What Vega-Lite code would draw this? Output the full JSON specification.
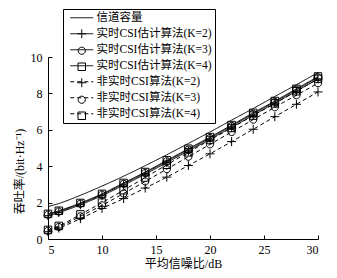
{
  "$schema": "https://vega.github.io/schema/vega-lite/v6.json",
  "width": 270,
  "height": 182,
  "autosize": "none",
  "padding": {"left": 48, "top": 57, "right": 19, "bottom": 39},
  "background": "white",
  "config": {
    "view": {"stroke": null},
    "font": "Liberation Serif, Noto Sans CJK SC",
    "axis": {
      "domainColor": "black", "tickColor": "black", "labelColor": "black", "titleColor": "black",
      "labelFont": "Liberation Serif", "labelFontSize": 12, "titleFont": "Liberation Serif, Noto Sans CJK SC",
      "titleFontSize": 12, "titleFontWeight": "normal", "grid": false, "tickSize": -4, "domainWidth": 1, "tickWidth": 1
    },
    "legend": {"labelFont": "Liberation Serif, Noto Sans CJK SC", "labelFontSize": 11.5, "labelColor": "black"}
  },
  "data": {"values": [
    {"snr": 5, "v": 1.78, "s": "信道容量", "m": "m0"},
    {"snr": 6, "v": 1.95, "s": "信道容量", "m": "m0"},
    {"snr": 8, "v": 2.40, "s": "信道容量", "m": "m0"},
    {"snr": 10, "v": 2.91, "s": "信道容量", "m": "m0"},
    {"snr": 12, "v": 3.45, "s": "信道容量", "m": "m0"},
    {"snr": 14, "v": 4.03, "s": "信道容量", "m": "m0"},
    {"snr": 16, "v": 4.63, "s": "信道容量", "m": "m0"},
    {"snr": 18, "v": 5.25, "s": "信道容量", "m": "m0"},
    {"snr": 20, "v": 5.88, "s": "信道容量", "m": "m0"},
    {"snr": 22, "v": 6.53, "s": "信道容量", "m": "m0"},
    {"snr": 24, "v": 7.17, "s": "信道容量", "m": "m0"},
    {"snr": 26, "v": 7.83, "s": "信道容量", "m": "m0"},
    {"snr": 28, "v": 8.48, "s": "信道容量", "m": "m0"},
    {"snr": 30, "v": 9.14, "s": "信道容量", "m": "m0"},

    {"snr": 5, "v": 1.28, "s": "实时CSI估计算法(K=2)", "m": "m1"},
    {"snr": 6, "v": 1.45, "s": "实时CSI估计算法(K=2)", "m": "m1"},
    {"snr": 8, "v": 1.88, "s": "实时CSI估计算法(K=2)", "m": "m1"},
    {"snr": 10, "v": 2.38, "s": "实时CSI估计算法(K=2)", "m": "m1"},
    {"snr": 12, "v": 2.96, "s": "实时CSI估计算法(K=2)", "m": "m1"},
    {"snr": 14, "v": 3.56, "s": "实时CSI估计算法(K=2)", "m": "m1"},
    {"snr": 16, "v": 4.20, "s": "实时CSI估计算法(K=2)", "m": "m1"},
    {"snr": 18, "v": 4.84, "s": "实时CSI估计算法(K=2)", "m": "m1"},
    {"snr": 20, "v": 5.48, "s": "实时CSI估计算法(K=2)", "m": "m1"},
    {"snr": 22, "v": 6.14, "s": "实时CSI估计算法(K=2)", "m": "m1"},
    {"snr": 24, "v": 6.80, "s": "实时CSI估计算法(K=2)", "m": "m1"},
    {"snr": 26, "v": 7.46, "s": "实时CSI估计算法(K=2)", "m": "m1"},
    {"snr": 28, "v": 8.12, "s": "实时CSI估计算法(K=2)", "m": "m1"},
    {"snr": 30, "v": 8.80, "s": "实时CSI估计算法(K=2)", "m": "m1"},

    {"snr": 5, "v": 1.34, "s": "实时CSI估计算法(K=3)", "m": "m2"},
    {"snr": 6, "v": 1.51, "s": "实时CSI估计算法(K=3)", "m": "m2"},
    {"snr": 8, "v": 1.94, "s": "实时CSI估计算法(K=3)", "m": "m2"},
    {"snr": 10, "v": 2.44, "s": "实时CSI估计算法(K=3)", "m": "m2"},
    {"snr": 12, "v": 3.03, "s": "实时CSI估计算法(K=3)", "m": "m2"},
    {"snr": 14, "v": 3.63, "s": "实时CSI估计算法(K=3)", "m": "m2"},
    {"snr": 16, "v": 4.27, "s": "实时CSI估计算法(K=3)", "m": "m2"},
    {"snr": 18, "v": 4.91, "s": "实时CSI估计算法(K=3)", "m": "m2"},
    {"snr": 20, "v": 5.55, "s": "实时CSI估计算法(K=3)", "m": "m2"},
    {"snr": 22, "v": 6.21, "s": "实时CSI估计算法(K=3)", "m": "m2"},
    {"snr": 24, "v": 6.88, "s": "实时CSI估计算法(K=3)", "m": "m2"},
    {"snr": 26, "v": 7.53, "s": "实时CSI估计算法(K=3)", "m": "m2"},
    {"snr": 28, "v": 8.20, "s": "实时CSI估计算法(K=3)", "m": "m2"},
    {"snr": 30, "v": 8.88, "s": "实时CSI估计算法(K=3)", "m": "m2"},

    {"snr": 5, "v": 1.38, "s": "实时CSI估计算法(K=4)", "m": "m3"},
    {"snr": 6, "v": 1.55, "s": "实时CSI估计算法(K=4)", "m": "m3"},
    {"snr": 8, "v": 1.98, "s": "实时CSI估计算法(K=4)", "m": "m3"},
    {"snr": 10, "v": 2.48, "s": "实时CSI估计算法(K=4)", "m": "m3"},
    {"snr": 12, "v": 3.08, "s": "实时CSI估计算法(K=4)", "m": "m3"},
    {"snr": 14, "v": 3.68, "s": "实时CSI估计算法(K=4)", "m": "m3"},
    {"snr": 16, "v": 4.32, "s": "实时CSI估计算法(K=4)", "m": "m3"},
    {"snr": 18, "v": 4.96, "s": "实时CSI估计算法(K=4)", "m": "m3"},
    {"snr": 20, "v": 5.60, "s": "实时CSI估计算法(K=4)", "m": "m3"},
    {"snr": 22, "v": 6.26, "s": "实时CSI估计算法(K=4)", "m": "m3"},
    {"snr": 24, "v": 6.93, "s": "实时CSI估计算法(K=4)", "m": "m3"},
    {"snr": 26, "v": 7.58, "s": "实时CSI估计算法(K=4)", "m": "m3"},
    {"snr": 28, "v": 8.25, "s": "实时CSI估计算法(K=4)", "m": "m3"},
    {"snr": 30, "v": 8.93, "s": "实时CSI估计算法(K=4)", "m": "m3"},

    {"snr": 5, "v": 0.40, "s": "非实时CSI算法(K=2)", "m": "m4"},
    {"snr": 6, "v": 0.60, "s": "非实时CSI算法(K=2)", "m": "m4"},
    {"snr": 8, "v": 1.12, "s": "非实时CSI算法(K=2)", "m": "m4"},
    {"snr": 10, "v": 1.68, "s": "非实时CSI算法(K=2)", "m": "m4"},
    {"snr": 12, "v": 2.22, "s": "非实时CSI算法(K=2)", "m": "m4"},
    {"snr": 14, "v": 2.80, "s": "非实时CSI算法(K=2)", "m": "m4"},
    {"snr": 16, "v": 3.40, "s": "非实时CSI算法(K=2)", "m": "m4"},
    {"snr": 18, "v": 4.04, "s": "非实时CSI算法(K=2)", "m": "m4"},
    {"snr": 20, "v": 4.68, "s": "非实时CSI算法(K=2)", "m": "m4"},
    {"snr": 22, "v": 5.35, "s": "非实时CSI算法(K=2)", "m": "m4"},
    {"snr": 24, "v": 6.03, "s": "非实时CSI算法(K=2)", "m": "m4"},
    {"snr": 26, "v": 6.72, "s": "非实时CSI算法(K=2)", "m": "m4"},
    {"snr": 28, "v": 7.40, "s": "非实时CSI算法(K=2)", "m": "m4"},
    {"snr": 30, "v": 8.08, "s": "非实时CSI算法(K=2)", "m": "m4"},

    {"snr": 5, "v": 0.45, "s": "非实时CSI算法(K=3)", "m": "m5"},
    {"snr": 6, "v": 0.66, "s": "非实时CSI算法(K=3)", "m": "m5"},
    {"snr": 8, "v": 1.25, "s": "非实时CSI算法(K=3)", "m": "m5"},
    {"snr": 10, "v": 1.85, "s": "非实时CSI算法(K=3)", "m": "m5"},
    {"snr": 12, "v": 2.50, "s": "非实时CSI算法(K=3)", "m": "m5"},
    {"snr": 14, "v": 3.16, "s": "非实时CSI算法(K=3)", "m": "m5"},
    {"snr": 16, "v": 3.84, "s": "非实时CSI算法(K=3)", "m": "m5"},
    {"snr": 18, "v": 4.52, "s": "非实时CSI算法(K=3)", "m": "m5"},
    {"snr": 20, "v": 5.20, "s": "非实时CSI算法(K=3)", "m": "m5"},
    {"snr": 22, "v": 5.88, "s": "非实时CSI算法(K=3)", "m": "m5"},
    {"snr": 24, "v": 6.56, "s": "非实时CSI算法(K=3)", "m": "m5"},
    {"snr": 26, "v": 7.24, "s": "非实时CSI算法(K=3)", "m": "m5"},
    {"snr": 28, "v": 7.90, "s": "非实时CSI算法(K=3)", "m": "m5"},
    {"snr": 30, "v": 8.56, "s": "非实时CSI算法(K=3)", "m": "m5"},

    {"snr": 5, "v": 0.50, "s": "非实时CSI算法(K=4)", "m": "m6"},
    {"snr": 6, "v": 0.72, "s": "非实时CSI算法(K=4)", "m": "m6"},
    {"snr": 8, "v": 1.35, "s": "非实时CSI算法(K=4)", "m": "m6"},
    {"snr": 10, "v": 2.00, "s": "非实时CSI算法(K=4)", "m": "m6"},
    {"snr": 12, "v": 2.68, "s": "非实时CSI算法(K=4)", "m": "m6"},
    {"snr": 14, "v": 3.38, "s": "非实时CSI算法(K=4)", "m": "m6"},
    {"snr": 16, "v": 4.08, "s": "非实时CSI算法(K=4)", "m": "m6"},
    {"snr": 18, "v": 4.76, "s": "非实时CSI算法(K=4)", "m": "m6"},
    {"snr": 20, "v": 5.44, "s": "非实时CSI算法(K=4)", "m": "m6"},
    {"snr": 22, "v": 6.10, "s": "非实时CSI算法(K=4)", "m": "m6"},
    {"snr": 24, "v": 6.78, "s": "非实时CSI算法(K=4)", "m": "m6"},
    {"snr": 26, "v": 7.45, "s": "非实时CSI算法(K=4)", "m": "m6"},
    {"snr": 28, "v": 8.12, "s": "非实时CSI算法(K=4)", "m": "m6"},
    {"snr": 30, "v": 8.80, "s": "非实时CSI算法(K=4)", "m": "m6"}
  ]},
  "encoding": {
    "x": {"field": "snr", "type": "quantitative",
      "scale": {"domain": [5, 30], "nice": false, "zero": false},
      "axis": {"values": [5, 10, 15, 20, 25, 30], "title": "平均信噪比/dB", "labelPadding": 9, "titlePadding": 3}},
    "y": {"field": "v", "type": "quantitative",
      "scale": {"domain": [0, 10], "nice": false},
      "axis": {"values": [0, 2, 4, 6, 8, 10], "title": "吞吐率/(bit·Hz⁻¹)", "labelPadding": 10, "titlePadding": 4, "titleY": 114}}
  },
  "layer": [
    {
      "mark": {"type": "line", "color": "black", "strokeWidth": 1, "interpolate": "monotone"},
      "encoding": {
        "strokeDash": {"field": "s", "type": "nominal",
          "scale": {"domain": ["信道容量", "实时CSI估计算法(K=2)", "实时CSI估计算法(K=3)", "实时CSI估计算法(K=4)", "非实时CSI算法(K=2)", "非实时CSI算法(K=3)", "非实时CSI算法(K=4)"],
            "range": [[1, 0], [1, 0], [1, 0], [1, 0], [4, 3], [4, 3], [4, 3]]},
          "legend": {"title": null, "orient": "none", "legendX": 15, "legendY": -48,
            "symbolType": "M-2.3,0H2.3", "symbolSize": 100, "symbolStrokeColor": "black", "symbolStrokeWidth": 1,
            "symbolOffset": 10, "labelOffset": 9, "rowPadding": 3, "padding": 3,
            "strokeColor": "black", "labelLimit": 200}}
      }
    },
    {
      "transform": [{"filter": "datum.m != 'm0'"}],
      "mark": {"type": "point", "filled": false, "stroke": "black", "strokeWidth": 1, "size": 100, "opacity": 1},
      "encoding": {
        "shape": {"field": "m", "type": "nominal",
          "scale": {"domain": ["m0", "m1", "m2", "m3", "m4", "m5", "m6"],
            "range": ["M0,0", "M-0.9,0H0.9M0,-0.9V0.9", "M-0.72,0A0.72,0.72 0 1,0 0.72,0A0.72,0.72 0 1,0 -0.72,0", "M-0.75,-0.75H0.75V0.75H-0.75Z", "M-0.9,0H0.9M0,-0.9V0.9", "M-0.72,0A0.72,0.72 0 1,0 0.72,0A0.72,0.72 0 1,0 -0.72,0", "M-0.75,-0.75H0.75V0.75H-0.75Z"]},
          "legend": {"title": null, "orient": "none", "legendX": 15, "legendY": -48,
            "symbolSize": 100, "symbolStrokeColor": "black", "symbolStrokeWidth": 1, "symbolFillColor": "transparent",
            "symbolOffset": 10, "labelOffset": 9, "rowPadding": 3, "padding": 3,
            "labelExpr": "''"}}
      }
    }
  ]
}
